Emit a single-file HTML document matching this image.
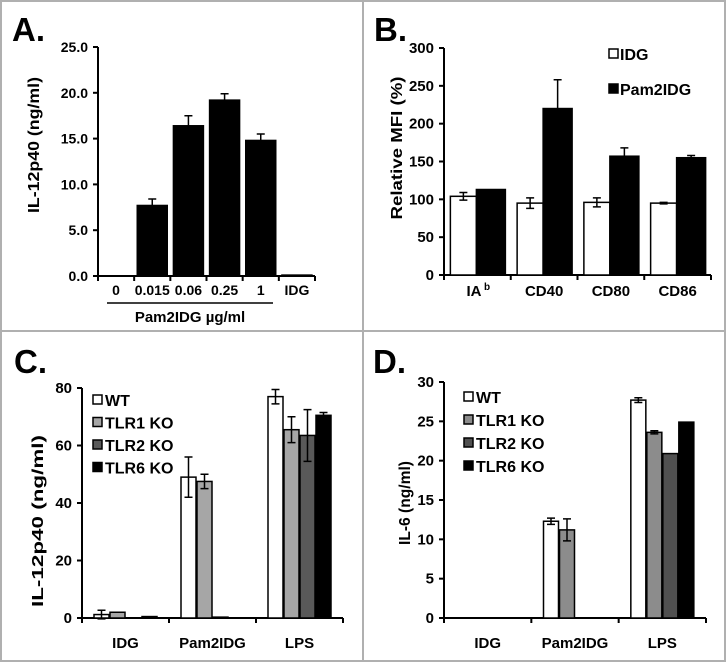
<!DOCTYPE html>
<html><head><meta charset="utf-8"><style>
body{margin:0;background:#fff}
svg{display:block;font-family:"Liberation Sans",Arial,sans-serif;font-weight:bold}
</style></head><body>
<svg id="fig" width="726" height="662" viewBox="0 0 726 662">
<rect x="1" y="1" width="724" height="660" fill="none" stroke="#b0b0b0" stroke-width="2"/>
<line x1="363" y1="0" x2="363" y2="662" stroke="#b0b0b0" stroke-width="2"/>
<line x1="0" y1="331" x2="726" y2="331" stroke="#b0b0b0" stroke-width="2"/>
</svg>
<script>
// Panel A data
const aCats = ["0","0.015","0.06","0.25","1","IDG"];
const aVals = [0, 7.7, 16.4, 19.2, 14.8, 0.1];
const aErr = [0, 0.7, 1.1, 0.7, 0.7, 0];
const aTicks = [0,5,10,15,20,25];
const aTickLabels = ["0.0","5.0","10.0","15.0","20.0","25.0"];
// Panel B data
const bCats = ["IA","CD40","CD80","CD86"];
const bIDG = [104, 95, 96, 95];
const bIDGErr = [5, 7, 6, 1];
const bPam = [113, 220, 157, 155];
const bPamErr = [0, 38, 11, 3];
const bTicks = [0,50,100,150,200,250,300];
// Panel C data
const cCats = ["IDG","Pam2IDG","LPS"];
const cWT = [1.2, 49, 77];
const cWTErr = [1.5, 7, 2.5];
const cTLR1 = [2, 47.5, 65.5];
const cTLR1Err = [0, 2.5, 4.5];
const cTLR2 = [0, 0.3, 63.5];
const cTLR2Err = [0, 0, 9];
const cTLR6 = [0.5, 0, 70.5];
const cTLR6Err = [0, 0, 1];
const cTicks = [0,20,40,60,80];
// Panel D data
const dWT = [0, 12.3, 27.7];
const dWTErr = [0, 0.4, 0.3];
const dTLR1 = [0, 11.2, 23.6];
const dTLR1Err = [0, 1.4, 0.2];
const dTLR2 = [0, 0, 20.9];
const dTLR2Err = [0, 0, 0];
const dTLR6 = [0, 0, 24.9];
const dTLR6Err = [0, 0, 0];
const dTicks = [0,5,10,15,20,25,30];
const legendC = ["WT","TLR1 KO","TLR2 KO","TLR6 KO"];

const svg = document.getElementById('fig');
const NS = "http://www.w3.org/2000/svg";
function mk(tag, attrs, parent){
  const e = document.createElementNS(NS, tag);
  for (const k in attrs) e.setAttribute(k, attrs[k]);
  (parent||svg).appendChild(e);
  return e;
}
function txt(s, x, y, size, anchor, parent){
  const t = mk('text', {x:x, y:y, 'font-size':size, 'text-anchor':anchor||'middle', fill:'#000'}, parent);
  t.textContent = s;
  return t;
}
function axes(g, x0, x1, y0, yTop, ticks, labels, max, nCats, catLabels, labelY, fontSize){
  const ys = v => y0 - v / max * (y0 - yTop);
  const yl = mk('line', {x1:x0, y1:yTop, x2:x0, y2:y0, stroke:'#000', 'stroke-width':2}, g);
  
  
  const xl = mk('line', {x1:x0-1, y1:y0, x2:x1, y2:y0, stroke:'#000', 'stroke-width':2}, g);
  
  
  ticks.forEach((v, i) => {
    const y = ys(v);
    const tk = mk('line', {x1:x0-5, y1:y, x2:x0, y2:y, stroke:'#000', 'stroke-width':2}, g);
    
    
    const t = txt(labels[i], x0-10, y+5, fontSize, 'end', g);
    
    
  });
  const cw = (x1 - x0) / nCats;
  for (let i = 0; i <= nCats; i++){
    const x = x0 + i*cw;
    const tk = mk('line', {x1:x, y1:y0, x2:x, y2:y0+5, stroke:'#000', 'stroke-width':2}, g);
    
    
  }
  catLabels.forEach((c, i) => {
    const t = txt(c, x0 + (i+0.5)*cw, labelY, fontSize, 'middle', g);
    
    
  });
  return {ys, cw};
}
function bar(g, x, w, v, ys, fill, name){
  const r = mk('rect', {x:x, y:ys(v), width:w, height:ys(0)-ys(v), fill:fill, stroke:'#000', 'stroke-width':1.5}, g);
  
  
}
function err(g, cx, v, e, ys, both){
  if (!e) return;
  const yt = ys(v+e), yb = both ? ys(v-e) : ys(v);
  const p = mk('path', {d:`M${cx},${yb}V${yt}M${cx-4},${yt}H${cx+4}` + (both?`M${cx-4},${yb}H${cx+4}`:''), stroke:'#000', 'stroke-width':1.5, fill:'none'}, g);
  
  
}
function ytitle(g, s, x, y, size, len){
  const t = mk('text', {x:0, y:0, 'font-size':size, 'text-anchor':'middle', textLength:len, lengthAdjust:'spacingAndGlyphs', transform:`translate(${x},${y}) rotate(-90)`}, g);
  t.textContent = s;
  
  
}
function panelLetter(g, s, x, y){
  const t = txt(s, x, y, 33, 'start', g);
  
  
}

// ---- Panel A ----
const gA = mk('g', {});


panelLetter(gA, "A.", 12, 41);
const A = axes(gA, 98, 315, 276, 47, aTicks, aTickLabels, 25, aCats.length, aCats, 295, 14);
aVals.forEach((v, i) => {
  const cx = 98 + (i+0.5)*A.cw;
  bar(gA, cx-15, 30, v, A.ys, '#000', 'bar-a-' + i);
  err(gA, cx, v, aErr[i], A.ys, false);
});
const ul = mk('line', {x1:107, y1:303, x2:273, y2:303, stroke:'#000', 'stroke-width':1.5}, gA);


const xt = txt("Pam2IDG \u00b5g/ml", 190, 322, 15, 'middle', gA);


ytitle(gA, "IL-12p40 (ng/ml)", 39, 145, 16, 136);

// ---- Panel B ----
const gB = mk('g', {});


panelLetter(gB, "B.", 374, 41);
const B = axes(gB, 444, 711, 275, 48, bTicks, bTicks.map(String), 300, bCats.length, ["","CD40","CD80","CD86"], 296, 15);
const iab = txt("IA", 474, 296, 15, 'middle', gB);


const sup = txt("b", 484, 290, 10, 'start', gB);


bIDG.forEach((v, i) => {
  const cx = 444 + (i+0.5)*B.cw;
  bar(gB, cx-27, 26, bIDG[i], B.ys, '#fff', 'bar-b-idg-' + i);
  err(gB, cx-14, bIDG[i], bIDGErr[i], B.ys, true);
  bar(gB, cx-1, 29, bPam[i], B.ys, '#000', 'bar-b-pam2idg-' + i);
  err(gB, cx+13.5, bPam[i], bPamErr[i], B.ys, false);
});
[["IDG","#fff",54],["Pam2IDG","#000",89]].forEach(([s,c,y]) => {
  const r = mk('rect', {x:609, y:y-5, width:9, height:9, fill:c, stroke:'#000', 'stroke-width':1.5}, gB);
  
  
  const t = txt(s, 620, y+6, 16, 'start', gB);
  
  
});
ytitle(gB, "Relative MFI (%)", 402, 148, 16, 143);

// ---- Panels C and D ----
function grouped(gname, letter, lx, x0, x1, y0, yTop, ticks, max, series, errs, colors, legX, legY, legStep, title, titleX, titleY, titleLen){
  const g = mk('g', {});
  
  
  panelLetter(g, letter, lx, 373);
  const P = axes(g, x0, x1, y0, yTop, ticks, ticks.map(String), max, 3, cCats, 648, 15);
  const bw = 15;
  for (let i = 0; i < 3; i++){
    const cx = x0 + (i+0.5)*P.cw;
    series.forEach((s, k) => {
      const bx = cx - 2*bw - 1.5 + k*(bw+1);
      if (s[i] > 0) bar(g, bx, bw, s[i], P.ys, colors[k], gname + '-bar-' + i + '-' + k);
      err(g, bx + bw/2, s[i], errs[k][i], P.ys, true);
    });
  }
  legendC.forEach((s, k) => {
    const y = legY + k*legStep;
    const r = mk('rect', {x:legX, y:y-5, width:9, height:9, fill:colors[k], stroke:'#000', 'stroke-width':1.5}, g);
    
    
    const t = txt(s, legX+12, y+6, 16, 'start', g);
    
    
  });
  ytitle(g, title, titleX, titleY, 16, titleLen);
}
grouped('panel-c', "C.", 14, 82, 343, 618, 388, cTicks, 80,
  [cWT, cTLR1, cTLR2, cTLR6], [cWTErr, cTLR1Err, cTLR2Err, cTLR6Err],
  ['#fff','#a6a6a6','#595959','#000'], 93, 400, 22.5, "IL-12p40 (ng/ml)", 43, 521, 172);
grouped('panel-d', "D.", 373, 444, 706, 618, 382, dTicks, 30,
  [dWT, dTLR1, dTLR2, dTLR6], [dWTErr, dTLR1Err, dTLR2Err, dTLR6Err],
  ['#fff','#8c8c8c','#505050','#000'], 464, 397, 23, "IL-6 (ng/ml)", 410, 503, 84);
</script>
</body></html>
